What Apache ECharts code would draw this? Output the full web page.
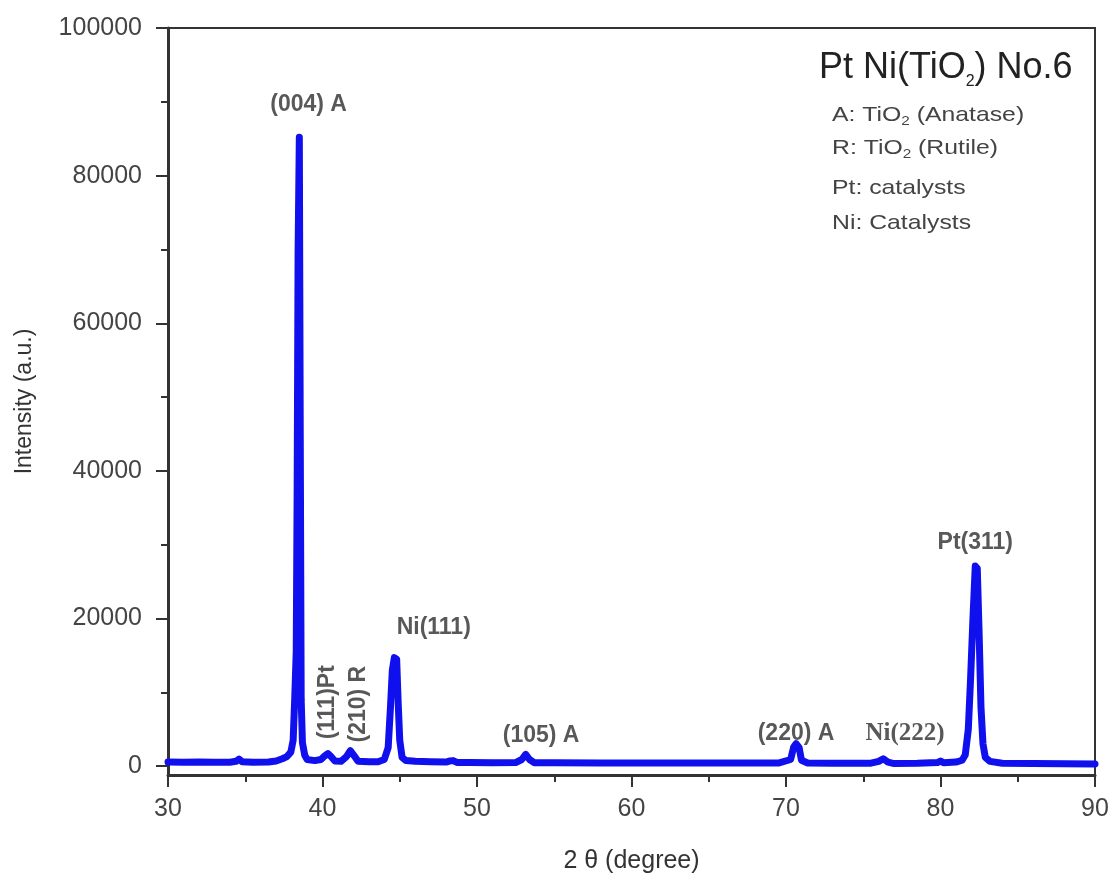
<!DOCTYPE html>
<html>
<head>
<meta charset="utf-8">
<script src="https://cdn.jsdelivr.net/npm/echarts@6/dist/echarts.min.js"></script>
<style>
html,body{margin:0;padding:0;background:#fff;}
#chart{width:1113px;height:879px;}
</style>
</head>
<body>
<div id="chart"></div>
<script>
// ---- data ----
const twoTheta = [
  30, 31, 32, 33, 34, 34.4, 34.6, 34.8, 35.5, 36.5,
  37.0, 37.4, 37.7, 37.95, 38.1, 38.2, 38.3, 38.36, 38.42, 38.5,
  38.56, 38.62, 38.7, 38.85, 39.0, 39.5, 39.9, 40.15, 40.35, 40.55,
  40.8, 41.2, 41.55, 41.8, 42.05, 42.3, 43.0, 43.6, 44.0, 44.25,
  44.4, 44.52, 44.65, 44.8, 44.9, 45.0, 45.15, 45.4, 46.0, 47.0,
  48.0, 48.25, 48.45, 48.7, 49.5, 51.0, 52.5, 52.9, 53.15, 53.4,
  53.7, 55, 58, 62, 66, 69.5, 70.3, 70.5, 70.65, 70.85,
  71.0, 71.4, 73, 75.5, 76.0, 76.3, 76.6, 77.0, 78.5, 79.8,
  80.0, 80.2, 81.0, 81.4, 81.6, 81.8, 81.95, 82.1, 82.25, 82.38,
  82.5, 82.62, 82.75, 82.9, 83.2, 84, 86, 88, 90
];
const intensity = [
  560, 540, 560, 520, 540, 650, 950, 600, 540, 560,
  700, 1000, 1300, 1900, 3500, 9000, 15500, 37600, 69500, 85200,
  44800, 9000, 3200, 1500, 900, 750, 900, 1400, 1700, 1300,
  700, 650, 1300, 2100, 1400, 650, 600, 600, 900, 2500,
  8000, 13000, 14700, 14500, 8500, 3500, 1200, 750, 650, 600,
  550, 700, 750, 500, 480, 470, 480, 900, 1600, 900,
  470, 450, 440, 430, 420, 420, 900, 2600, 3050, 2500,
  800, 420, 400, 400, 650, 1000, 550, 350, 380, 480,
  700, 450, 550, 800, 1500, 5000, 12000, 20000, 27100, 26800,
  18000, 8000, 3000, 1200, 650, 400, 350, 330, 300
];

// axis ticks
const xTicks = [30, 40, 50, 60, 70, 80, 90];
const yMajorTicks = [0, 20000, 40000, 60000, 80000, 100000];
const yMinorTicks = [10000, 30000, 50000, 70000, 90000];

// peak annotations (text, anchor 2θ, anchor intensity)
const peakLabelText = ['(004) A', 'Ni(111)', '(105) A', '(220) A', 'Pt(311)'];
const peakLabelX    = [39.1, 47.2, 54.15, 70.65, 82.25];
const peakLabelY    = [89600, 18700, 4100, 4400, 30300];

const vertLabelText = ['(111)Pt', '(210) R'];
const vertLabelX    = [40.35, 42.33];
const vertLabelY    = [8650, 8400];

const serifLabelText = ['Ni(222)'];
const serifLabelX    = [77.7];
const serifLabelY    = [4400];

// title & legend texts
const titleParts = ['Pt Ni(TiO', '2', ') No.6'];
const legendLines = [
  ['A: TiO', '2', ' (Anatase)'],
  ['R: TiO', '2', ' (Rutile)'],
  ['Pt: catalysts', '', ''],
  ['Ni: Catalysts', '', '']
];

// ---- chart ----
const FONT = '"Liberation Sans", Arial, sans-serif';
const profile = twoTheta.map((x, i) => [x, intensity[i]]);
const mk = (t, xs, ys) => t.map((s, i) => ({ name: s, value: [xs[i], ys[i]] }));

const chart = echarts.init(document.getElementById('chart'), null, { renderer: 'canvas' });

function richText(parts) {
  let s = '{a|' + parts[0] + '}';
  if (parts[1]) s += '{s|' + parts[1] + '}';
  if (parts[2]) s += '{a|' + parts[2] + '}';
  return s;
}

const legendTops = [103.5, 136.5, 176.5, 211.5];
const legendGraphics = legendLines.map((p, i) => ({
  type: 'text',
  x: 832, y: legendTops[i],
  scaleX: 1.18,
  style: {
    text: richText(p),
    fill: '#444',
    font: '21px ' + FONT,
    verticalAlign: 'top',
    rich: {
      a: { fontSize: 21, lineHeight: 24, verticalAlign: 'middle', fill: '#444', fontFamily: FONT },
      s: { fontSize: 13, lineHeight: 11, verticalAlign: 'bottom', fill: '#444', fontFamily: FONT }
    }
  }
}));

const option = {
  animation: false,
  backgroundColor: '#fff',
  grid: {
    left: 168, right: 18, top: 28, bottom: 102,
    show: true, borderColor: '#333', borderWidth: 2, backgroundColor: 'transparent'
  },
  xAxis: {
    type: 'value', min: 30, max: 90, interval: 10,
    name: '2 θ (degree)', nameLocation: 'middle', nameGap: 74,
    nameTextStyle: { fontSize: 25, color: '#333', fontFamily: FONT },
    axisLine: { show: true, onZero: false, lineStyle: { color: '#333', width: 3 } },
    axisTick: { show: true, length: 12, lineStyle: { color: '#333', width: 2 } },
    minorTick: { show: true, splitNumber: 2, length: 7, lineStyle: { color: '#333', width: 2 } },
    axisLabel: { fontSize: 25, color: '#444', margin: 22, fontFamily: FONT,
                 customValues: xTicks },
    splitLine: { show: false }
  },
  yAxis: [
    {
      type: 'value', min: -1200, max: 100000,
      name: 'Intensity (a.u.)', nameLocation: 'middle', nameGap: 132, nameRotate: 90,
      nameTextStyle: { fontSize: 23, color: '#333', fontFamily: FONT },
      axisLine: { show: true, lineStyle: { color: '#333', width: 3 } },
      axisTick: { show: true, length: 12, customValues: yMajorTicks, lineStyle: { color: '#333', width: 2 } },
      axisLabel: { fontSize: 25, color: '#444', margin: 26, fontFamily: FONT,
                   customValues: yMajorTicks, formatter: v => String(v) },
      splitLine: { show: false }
    },
    {
      type: 'value', min: -1200, max: 100000, position: 'left',
      axisLine: { show: false },
      axisTick: { show: true, length: 7, customValues: yMinorTicks, lineStyle: { color: '#333', width: 2 } },
      axisLabel: { show: false },
      splitLine: { show: false }
    }
  ],
  series: [
    {
      type: 'line',
      data: profile,
      showSymbol: false,
      symbol: 'none',
      smooth: false,
      lineStyle: { color: '#1010ee', width: 7, join: 'round', cap: 'round' },
      silent: true,
      z: 2
    },
    {
      type: 'scatter', symbolSize: 0, silent: true, z: 5,
      data: mk(peakLabelText, peakLabelX, peakLabelY),
      label: { show: true, position: 'inside', formatter: p => p.name,
               fontSize: 23, fontWeight: 'bold', color: '#2e2e2e', fontFamily: FONT }
    },
    {
      type: 'scatter', symbolSize: 0, silent: true, z: 5,
      data: mk(vertLabelText, vertLabelX, vertLabelY),
      label: { show: true, position: 'inside', rotate: 90, formatter: p => p.name,
               fontSize: 23, fontWeight: 'bold', color: '#2e2e2e', fontFamily: FONT }
    },
    {
      type: 'scatter', symbolSize: 0, silent: true, z: 5,
      data: mk(serifLabelText, serifLabelX, serifLabelY),
      label: { show: true, position: 'inside', formatter: p => p.name,
               fontSize: 25, fontWeight: 'bold', color: '#2e2e2e',
               fontFamily: '"Liberation Serif", "Times New Roman", serif' }
    }
  ],
  graphic: [
    {
      type: 'text', x: 819, y: 46,
      style: {
        text: richText(titleParts),
        fill: '#222',
        font: '36px ' + FONT,
        verticalAlign: 'top',
        rich: {
          a: { fontSize: 36, lineHeight: 44, verticalAlign: 'middle', fill: '#222', fontFamily: FONT },
          s: { fontSize: 16, lineHeight: 16, verticalAlign: 'bottom', fill: '#222', fontFamily: FONT }
        }
      }
    }
  ].concat(legendGraphics)
};

chart.setOption(option);
</script>
</body>
</html>
